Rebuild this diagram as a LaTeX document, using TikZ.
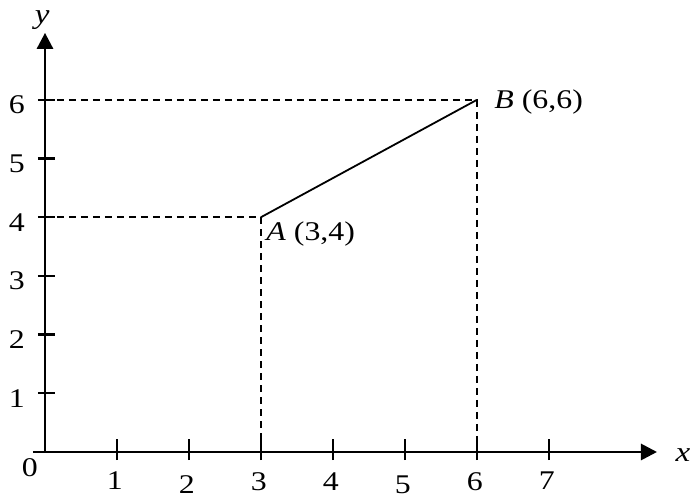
\documentclass[tikz,border=0pt]{standalone}
\usepackage{fontspec}
\setmainfont{Liberation Serif}[FakeStretch=1.18]
\usepackage{tikz}
\usetikzlibrary{arrows.meta, positioning}
\tikzset{
  axis/.style={-{Triangle[length=8pt, width=8pt]}, line width=1.4pt, color=black},
  tickmark/.style={line width=1.1pt, color=black},
  guide/.style={dash pattern=on 3.5pt off 2.5pt, line width=0.9pt, color=black},
  segment/.style={line width=0.9pt, color=black},
  numlabel/.style={font=\fontsize{13.5}{15}\selectfont, inner sep=0pt},
  pointlabel/.style={font=\fontsize{13.5}{15}\selectfont, inner sep=0pt}
}

\begin{document}
\begin{tikzpicture}[x=36pt, y=29.35pt]
  \useasboundingbox (-0.625,-0.77) rectangle (9.014,7.70);

  % Axes
  \coordinate (O) at (0,0);
  \coordinate (xstart) at (-0.17,0);
  \coordinate (xend) at (8.5,0);
  \coordinate (yend) at (0,7.14);
  \draw[axis] (xstart) -- (xend);
  \draw[axis] (O) -- (yend);
  \node[numlabel, font=\fontsize{14}{16}\selectfont\itshape] (xlab) at (8.86,-0.05) {x};
  \node[numlabel, font=\fontsize{14}{16}\selectfont\itshape] (ylab) at (-0.04,7.36) {y};
  \node[numlabel] (zero) at (-0.21,-0.27) {0};

  % Ticks on x
  \foreach \i/\dy in {1/0, 2/0.08, 3/0.02, 4/0.02, 5/0.08, 6/0.02, 7/0} {
    \draw[tickmark] (\i,-0.14) -- (\i,0.22);
    \node[numlabel] (xt\i) at (\i-0.03,-0.48-\dy) {\i};
  }

  % Ticks on y
  \foreach \j in {1,...,6} {
    \draw[tickmark] (-0.1,\j) -- (0.14,\j);
    \node[numlabel] (yt\j) at (-0.39,\j-0.09) {\j};
  }

  % Points and guides
  \coordinate (A) at (3,4);
  \coordinate (B) at (6,6);
  \coordinate (Ay) at (0,4);
  \coordinate (Ax) at (3,0);
  \coordinate (By) at (0,6);
  \coordinate (Bx) at (6,0);
  \draw[guide] (Ay) -- (A) -- (Ax);
  \draw[guide] (By) -- (B) -- (Bx);
  \draw[segment] (A) -- (B);

  \node[pointlabel, anchor=north west, xshift=2.5pt, yshift=-2pt] (Alab) at (A) {\textit{A} (3,4)};
  \node[pointlabel, anchor=west, xshift=8.5pt, yshift=-1pt] (Blab) at (B) {\textit{B} (6,6)};
\end{tikzpicture}
\end{document}
